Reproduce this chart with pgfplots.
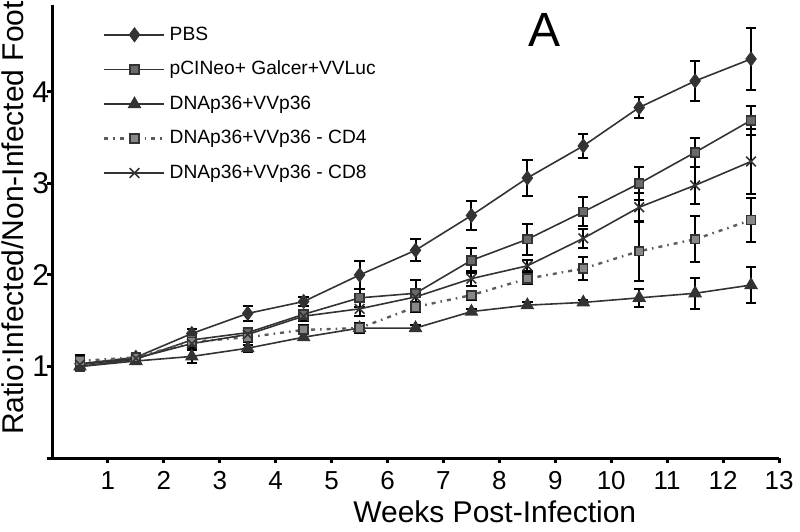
\documentclass[border=0pt]{standalone}
\usepackage{fontspec}
\setmainfont{Liberation Sans}
\usepackage{pgfplots}
\pgfplotsset{compat=1.18}
\definecolor{ln}{HTML}{333333}
\definecolor{sqfill}{HTML}{6A6A6A}
\begin{document}
\begin{tikzpicture}
\begin{axis}[
  name=ax,
  scale only axis,
  width=363.5pt, height=226.5pt,
  xmin=0, xmax=13, ymin=0, ymax=4.95,
  axis lines=left,
  axis line style={-, line width=1.5pt, black},
  xtick={1,...,13}, ytick={0,1,2,3,4},
  yticklabels={,1,2,3,4},
  tick align=outside, major tick length=2.5pt,
  tick style={line width=1.5pt, black},
  /pgf/number format/assume math mode=true,
  xticklabel style={font=\fontsize{13}{14}\selectfont, inner sep=1pt, yshift=-3pt},
  yticklabel style={font=\fontsize{15}{16}\selectfont, inner sep=1pt, xshift=2.2pt},
  xlabel={Weeks Post-Infection},
  ylabel={Ratio:Infected/Non-Infected Foot},
  xlabel style={font=\fontsize{15}{16}\selectfont, at={(axis description cs:0.609,-0.143)}, anchor=base},
  ylabel style={font=\fontsize{15}{16}\selectfont, at={(axis description cs:-0.0536,0.53)}, anchor=center},
  clip=false,
  legend style={at={(axis description cs:0.07,0.962)}, anchor=north west, draw=none, fill=none,
    font=\fontsize{9.6}{11}\selectfont, inner sep=0pt, row sep=5pt,
    /tikz/every even column/.append style={column sep=2pt}},
  legend cell align=left,
  legend image code/.code={\draw[mark repeat=2,mark phase=2] plot coordinates {(0pt,0pt) (15pt,0pt) (30pt,0pt)};},
  error bars/y dir=both, error bars/y explicit,
  error bars/error bar style={black, line width=1pt, solid},
  error bars/error mark options={rotate=90, mark size=2.6pt, black, line width=1pt, solid},
  every axis plot/.append style={line width=0.8pt},
]
\addplot[ln, mark=diamond*, mark size=3.2pt, mark options={solid, fill=ln, draw=ln}] coordinates {
 (0.5,1.03) +- (0,0.08) (1.5,1.10) +- (0,0.03) (2.5,1.36) +- (0,0.05) (3.5,1.58) +- (0,0.08)
 (4.5,1.71) +- (0,0.05) (5.5,2.00) +- (0,0.15) (6.5,2.27) +- (0,0.12) (7.5,2.65) +- (0,0.16)
 (8.5,3.06) +- (0,0.20) (9.5,3.41) +- (0,0.13) (10.5,3.83) +- (0,0.11) (11.5,4.12) +- (0,0.22)
 (12.5,4.36) +- (0,0.34)};
\addlegendentry{PBS}
\addplot[ln, mark=square*, mark size=2.2pt, mark options={solid, fill=sqfill, draw=ln, line width=0.8pt}] coordinates {
 (0.5,1.00) +- (0,0.05) (1.5,1.08) +- (0,0.03) (2.5,1.29) +- (0,0.05) (3.5,1.37) +- (0,0.05)
 (4.5,1.57) +- (0,0.05) (5.5,1.75) +- (0,0.10) (6.5,1.80) +- (0,0.14) (7.5,2.16) +- (0,0.14)
 (8.5,2.39) +- (0,0.17) (9.5,2.69) +- (0,0.16) (10.5,3.00) +- (0,0.18) (11.5,3.34) +- (0,0.16)
 (12.5,3.69) +- (0,0.16)};
\addlegendentry{pCINeo+ Galcer+VVLuc}
\addplot[ln, mark=triangle*, mark size=3.2pt, mark options={solid, fill=ln, draw=ln}] coordinates {
 (0.5,1.00) +- (0,0.04) (1.5,1.06) +- (0,0.03) (2.5,1.11) +- (0,0.07) (3.5,1.20) +- (0,0.04)
 (4.5,1.32) +- (0,0.03) (5.5,1.42) +- (0,0.04) (6.5,1.42) +- (0,0.03) (7.5,1.60) +- (0,0.03)
 (8.5,1.67) +- (0,0.03) (9.5,1.70) +- (0,0.03) (10.5,1.75) +- (0,0.10) (11.5,1.80) +- (0,0.17)
 (12.5,1.89) +- (0,0.20)};
\addlegendentry{DNAp36+VVp36}
\addplot[ln!80, line width=1.2pt, dash pattern=on 2pt off 2.5pt on 0.8pt off 2.5pt, mark=square*, mark size=2.2pt, mark options={solid, fill=sqfill!80, draw=ln, line width=0.8pt}] coordinates {
 (0.5,1.06) +- (0,0.07) (1.5,1.10) +- (0,0.03) (2.5,1.27) +- (0,0.04) (3.5,1.32) +- (0,0.05)
 (4.5,1.40) +- (0,0.05) (5.5,1.42) +- (0,0.05) (6.5,1.65) +- (0,0.06) (7.5,1.78) +- (0,0.05)
 (8.5,1.96) +- (0,0.06) (9.5,2.07) +- (0,0.13) (10.5,2.26) +- (0,0.33) (11.5,2.39) +- (0,0.25)
 (12.5,2.60) +- (0,0.24)};
\addlegendentry{DNAp36+VVp36 - CD4}
\addplot[ln, mark=x, mark size=3.4pt, mark options={solid, draw=ln, line width=0.8pt}] coordinates {
 (0.5,1.02) +- (0,0.05) (1.5,1.09) +- (0,0.03) (2.5,1.25) +- (0,0.05) (3.5,1.35) +- (0,0.05)
 (4.5,1.55) +- (0,0.05) (5.5,1.63) +- (0,0.08) (6.5,1.76) +- (0,0.08) (7.5,1.96) +- (0,0.08)
 (8.5,2.10) +- (0,0.06) (9.5,2.40) +- (0,0.10) (10.5,2.74) +- (0,0.16) (11.5,2.98) +- (0,0.20)
 (12.5,3.24) +- (0,0.36)};
\addlegendentry{DNAp36+VVp36 - CD8}
\node[font=\fontsize{24}{26}\selectfont] at (axis cs:8.8,4.68) {A};
\end{axis}
\pgfresetboundingbox
\path[use as bounding box] ([shift={(-26pt,-36.5pt)}]ax.south west) rectangle ([shift={(10.5pt,2.5pt)}]ax.north east);
\end{tikzpicture}
\end{document}
